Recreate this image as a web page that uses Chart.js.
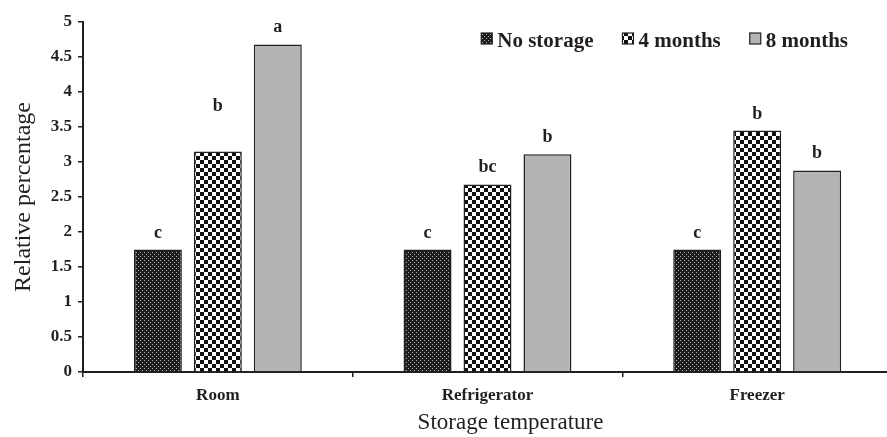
<!DOCTYPE html>
<html>
<head>
<meta charset="utf-8">
<script src="https://cdn.jsdelivr.net/npm/chart.js@4.4.1/dist/chart.umd.min.js"></script>
<style>
  html, body { margin: 0; padding: 0; background: #fff; overflow: hidden; }
  #wrap { width: 892px; height: 437px; }
</style>
</head>
<body>
<div id="wrap"><canvas id="chart" width="892" height="437"></canvas></div>
<script>
const categories = ['Room', 'Refrigerator', 'Freezer'];
const seriesNames = ['No storage', '4 months', '8 months'];
const noStorage = [1.75, 1.75, 1.75];
const fourMonths = [3.15, 2.68, 3.45];
const eightMonths = [4.68, 3.11, 2.88];
const noStorageLetters = ['c', 'c', 'c'];
const fourMonthsLetters = ['b', 'bc', 'b'];
const eightMonthsLetters = ['a', 'b', 'b'];
const yTicks = [0, 0.5, 1, 1.5, 2, 2.5, 3, 3.5, 4, 4.5, 5];

const SERIF = "'Liberation Serif', 'Times New Roman', serif";
const INK = '#231f20';

// fill patterns
function makePattern(size, draw) {
  const c = document.createElement('canvas');
  c.width = size;
  c.height = size;
  draw(c.getContext('2d'));
  return document.getElementById('chart').getContext('2d').createPattern(c, 'repeat');
}

const dotted = makePattern(4, g => {
  g.fillStyle = '#1c1a1b';
  g.fillRect(0, 0, 4, 4);
  g.fillStyle = '#b8b8b8';
  g.fillRect(0, 0, 1, 1);
  g.fillRect(2, 2, 1, 1);
});

const checker = makePattern(8, g => {
  g.fillStyle = '#ffffff';
  g.fillRect(0, 0, 8, 8);
  g.fillStyle = '#111';
  g.fillRect(0, 0, 4, 4);
  g.fillRect(4, 4, 4, 4);
});

const grey = '#b3b4b6';

const fills = [dotted, checker, grey];
const letters = [noStorageLetters, fourMonthsLetters, eightMonthsLetters];
// the letter over the room / 4 months bar sits higher in the original
const extraLift = { '1,0': 29 };

const letterPlugin = {
  id: 'letters',
  afterDatasetsDraw(chart) {
    const ctx = chart.ctx;
    ctx.save();
    ctx.font = 'bold 18px ' + SERIF;
    ctx.fillStyle = INK;
    ctx.textAlign = 'center';
    ctx.textBaseline = 'alphabetic';
    chart.data.datasets.forEach((ds, i) => {
      chart.getDatasetMeta(i).data.forEach((bar, j) => {
        const lift = extraLift[i + ',' + j] || 0;
        ctx.fillText(letters[i][j], bar.x, bar.y - 12 - lift);
      });
    });
    ctx.restore();
  }
};

const legendPlugin = {
  id: 'boxLegend',
  afterDraw(chart) {
    const ctx = chart.ctx;
    ctx.save();
    ctx.font = 'bold 21px ' + SERIF;
    ctx.textBaseline = 'alphabetic';
    const box = 11, gapText = 5, gapItem = 29;
    const widths = seriesNames.map(n => box + gapText + ctx.measureText(n).width);
    const total = widths.reduce((a, b) => a + b, 0) + gapItem * (widths.length - 1);
    let x = 848 - total;
    const baseline = 47;
    seriesNames.forEach((name, i) => {
      ctx.fillStyle = fills[i];
      ctx.fillRect(x, baseline - 14, box, box);
      ctx.strokeStyle = INK;
      ctx.lineWidth = 1.2;
      ctx.strokeRect(x, baseline - 14, box, box);
      ctx.fillStyle = INK;
      ctx.fillText(name, x + box + gapText, baseline);
      x += widths[i] + gapItem;
    });

    // x axis title, a little right of the plot centre as in the original
    const area = chart.chartArea;
    ctx.font = '23px ' + SERIF;
    ctx.textAlign = 'center';
    ctx.textBaseline = 'middle';
    ctx.fillText('Storage temperature', (area.left + area.right) / 2 + 23, 423);
    ctx.restore();
  }
};

new Chart(document.getElementById('chart'), {
  type: 'bar',
  data: {
    labels: categories,
    datasets: [
      { label: seriesNames[0], data: noStorage, backgroundColor: dotted },
      { label: seriesNames[1], data: fourMonths, backgroundColor: checker },
      { label: seriesNames[2], data: eightMonths, backgroundColor: grey }
    ].map(ds => Object.assign(ds, {
      borderColor: INK,
      borderWidth: 1.5,
      borderSkipped: 'bottom',
      categoryPercentage: 0.667,
      barPercentage: 0.8
    }))
  },
  options: {
    responsive: false,
    animation: false,
    layout: { padding: { top: 22, left: 0, right: 0, bottom: 0 } },
    plugins: {
      legend: { display: false },
      tooltip: { enabled: false }
    },
    scales: {
      x: {
        afterFit: s => { s.height = 65; },
        border: { color: INK, width: 2 },
        grid: {
          offset: true,
          drawOnChartArea: false,
          drawTicks: true,
          tickLength: 5,
          color: INK,
          lineWidth: 1.5
        },
        ticks: {
          color: INK,
          padding: 8,
          font: { family: SERIF, size: 17, weight: 'bold' }
        }
      },
      y: {
        min: 0,
        max: 5,
        afterFit: s => { s.width = 83; },
        afterBuildTicks: s => { s.ticks = yTicks.map(v => ({ value: v })); },
        border: { color: INK, width: 2 },
        grid: {
          drawOnChartArea: false,
          drawTicks: true,
          tickLength: 5,
          color: INK,
          lineWidth: 1.5
        },
        ticks: {
          color: INK,
          padding: 6,
          callback: v => String(v),
          font: { family: SERIF, size: 17, weight: 'bold' }
        },
        title: {
          display: true,
          text: 'Relative percentage',
          color: INK,
          padding: { top: 9, bottom: 0 },
          font: { family: SERIF, size: 24 }
        }
      }
    }
  },
  plugins: [letterPlugin, legendPlugin]
});
</script>
</body>
</html>
